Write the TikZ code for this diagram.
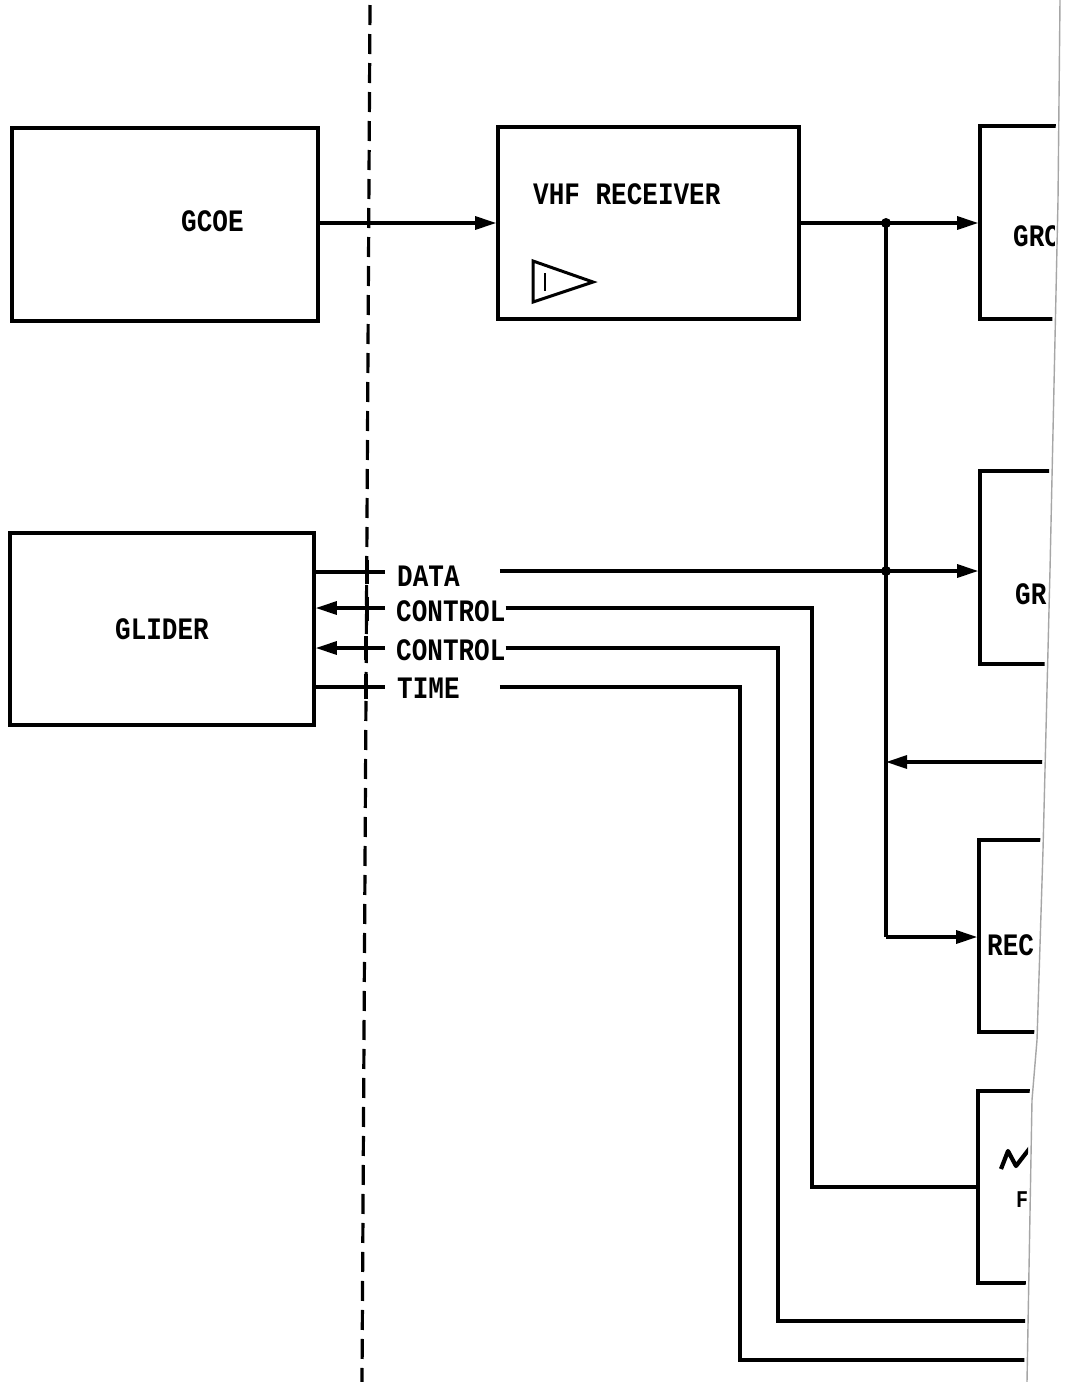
\documentclass[tikz,border=0pt]{standalone}
\usepackage{fontspec}
\usepackage{graphicx}
\newfontfamily\twfont{Liberation Mono}
\usetikzlibrary{arrows.meta}
\newcommand{\tw}[1]{\scalebox{1}[1.2]{\twfont\bfseries #1}}
\tikzset{
  box/.style={draw, line width=3.6pt, inner sep=0pt, font=\fontsize{26}{28}\selectfont},
  wire/.style={line width=3.2pt},
  arr/.style={wire, -{Triangle[length=21pt,width=13pt]}},
  lbl/.style={inner sep=0pt, anchor=west, font=\fontsize{26}{28}\selectfont},
  jdot/.style={circle, fill, inner sep=0pt, minimum size=10pt},
  tick/.style={line width=3.2pt},
  pageedge/.style={draw=black!35, line width=1.4pt}
}
\begin{document}
\begin{tikzpicture}[x=1pt,y=-1pt]
\useasboundingbox[fill=white] (0,0) rectangle (1065,1382);

% separation line
\draw[line width=3.2pt, dash pattern=on 20pt off 9pt] (370,5) -- (362,1382);

\begin{scope}
\clip (0,0) -- (1057,0) -- (1055,200) -- (1047,570) -- (1040,850) -- (1034,1040) -- (1029,1100) -- (1024,1382) -- (0,1382) -- cycle;

% left boxes
\node[box, minimum width=306pt, minimum height=193pt] (gcoe) at (165,224.5) {};
\node[lbl] (gcoet) at (181,221) {\tw{GCOE}};
\node[box, minimum width=304pt, minimum height=192pt] (glider) at (162,629) {\tw{GLIDER}};

% VHF receiver
\node[box, minimum width=301pt, minimum height=192pt] (vhf) at (648.5,223) {};
\node[lbl] (vhft) at (533,194) {\tw{VHF RECEIVER}};
\draw[line width=3pt, line join=miter] (533,261) -- (593,282) -- (533,302) -- cycle;
\draw[line width=2.4pt] (545,273) -- (545,291);

% right boxes (cut by the page edge)
\node[box, minimum width=160pt, minimum height=193pt] (grc) at (1060,222.5) {};
\node[lbl] (grct) at (1013,236) {\tw{GRC}};
\node[box, minimum width=160pt, minimum height=193pt] (gr) at (1060,567.5) {};
\node[lbl] (grt) at (1015,594) {\tw{GRC}};
\node[box, minimum width=160pt, minimum height=192pt] (rec) at (1059,936) {};
\node[lbl] (rect) at (987,945) {\tw{REC}};
\node[box, minimum width=160pt, minimum height=192pt] (pr) at (1058,1187) {};
\draw[line width=4.2pt, line join=round] (1001,1169) -- (1008,1151) -- (1016,1166) -- (1033,1144);
\node[lbl, font=\fontsize{20}{22}\selectfont] (prt) at (1016,1200) {\tw{F}};

% junctions
\coordinate (j1) at (886,223);
\coordinate (j2) at (886,571);
\coordinate (j3) at (886,762);
\coordinate (j4) at (886,937);
\coordinate (e3) at (1060,762);

\draw[arr] (gcoe.east |- j1) -- (vhf.west |- j1);
\draw[arr] (vhf.east |- j1) -- (grc.west |- j1);
\draw[wire] (j1) -- (j4);
\draw[arr] (j4) -- (rec.west |- j4);
\draw[arr] (e3) -- (j3);

% glider interface labels
\node[lbl] (data) at (397,576) {\tw{DATA}};
\node[lbl] (ctla) at (396,611) {\tw{CONTROL}};
\node[lbl] (ctlb) at (396,650) {\tw{CONTROL}};
\node[lbl] (tm)   at (397,688) {\tw{TIME}};

\coordinate (c1) at (812,608);
\coordinate (c2) at (778,648);
\coordinate (c3) at (740,687);
\coordinate (e2) at (1060,1321);
\coordinate (e4) at (1060,1360);

% glider side
\draw[wire] (glider.east |- 0,572) -- ([xshift=-12pt]data.west |- 0,572);
\draw[arr] ([xshift=-11pt]ctla.west |- c1) -- (glider.east |- c1);
\draw[arr] ([xshift=-11pt]ctlb.west |- c2) -- (glider.east |- c2);
\draw[wire] (glider.east |- c3) -- ([xshift=-12pt]tm.west |- c3);
\draw[tick] (367,560) -- (367,584);
\draw[tick] (367,597) -- (367,621);
\draw[tick] (366,636) -- (366,660);
\draw[tick] (366,674) -- (366,699);

% receiver side
\draw[arr] ([xshift=40pt]data.east |- j2) -- (gr.west |- j2);
\draw[wire] (ctla.east |- c1) -- (c1) |- (pr.west);
\draw[wire] (ctlb.east |- c2) -- (c2) |- (e2);
\draw[wire] ([xshift=40pt]tm.east |- c3) -- (c3) |- (e4);

\node[jdot] at (j1) {};
\node[jdot] at (j2) {};
\end{scope}

% page edge
\draw[pageedge] (1060,0) -- (1058,200) -- (1050,570) -- (1043,850) -- (1037,1040) -- (1032,1100) -- (1027,1382);
\end{tikzpicture}
\end{document}
